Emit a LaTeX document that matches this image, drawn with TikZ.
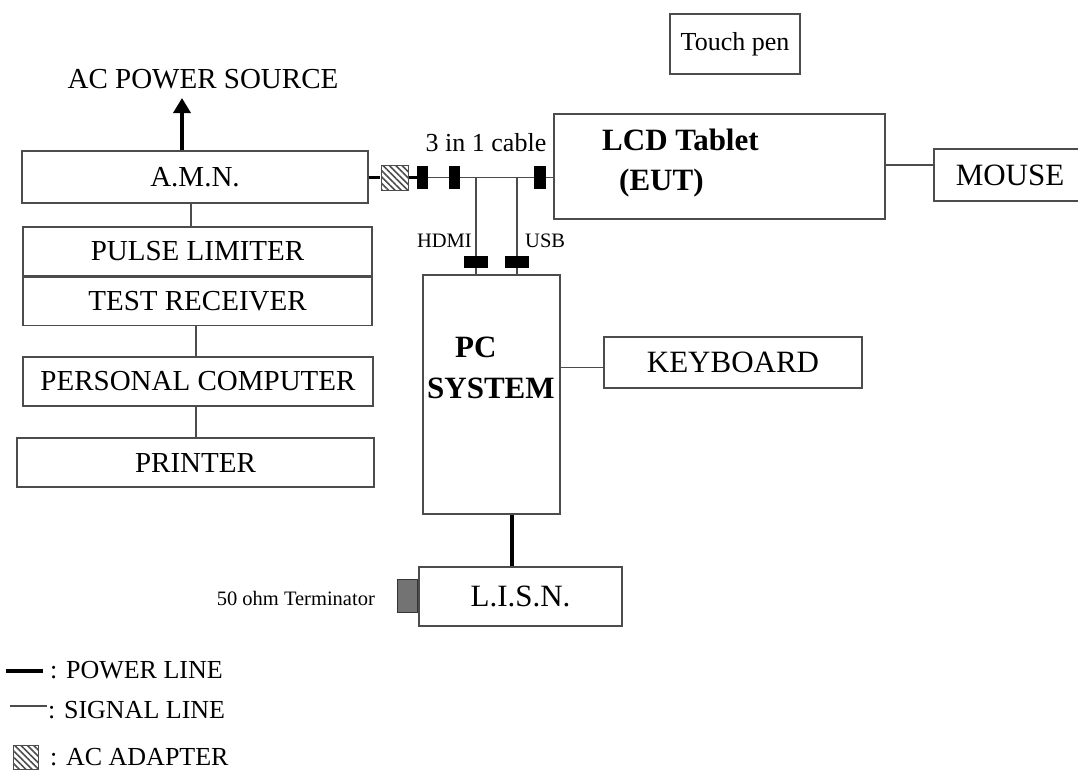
\documentclass[tikz,border=0pt]{standalone}
\usepackage{fontspec}
\setmainfont{Liberation Serif}
\usepackage{tikz}
\usetikzlibrary{arrows.meta,positioning,patterns.meta}

\begin{document}
\begin{tikzpicture}[
  x=1pt, y=-1pt,
  node distance=0pt,
  box/.style={rectangle, draw=black!70, line width=1.3pt, inner sep=0pt, align=center, font=\fontsize{29}{34}\selectfont},
  rbox/.style={box, font=\fontsize{31}{36}\selectfont},
  bold/.style={inner sep=0pt, font=\fontsize{31}{36}\selectfont\bfseries},
  lbl/.style={inner sep=0pt, font=\fontsize{26}{30}\selectfont},
  small/.style={inner sep=0pt, font=\fontsize{20.5}{24}\selectfont},
  plug/.style={rectangle, fill=black, inner sep=0pt},
  adapter/.style={rectangle, draw=black!70, line width=1pt, inner sep=0pt, pattern={Lines[angle=-45,distance=4.5pt,line width=1.6pt]}, pattern color=black!70},
  sig/.style={draw=black!70, line width=1.3pt},
  pwr/.style={draw=black, line width=3.5pt}
]
\useasboundingbox (0,0) rectangle (1078,769);

% test side
\node[box, draw=none, anchor=base] (acsrc) at (203,88) {AC POWER SOURCE};
\node[box, minimum width=346pt, minimum height=52pt] (amn) at (195,177) {A.M.N.};
\node[box, minimum width=349pt, minimum height=49pt] (pulse) at (197.5,251.5) {PULSE LIMITER};
\node[box, minimum width=349pt, minimum height=48pt, below=of pulse] (testrx) {TEST RECEIVER};
\node[box, minimum width=350pt, minimum height=49pt] (perscomp) at (198,381.5) {PERSONAL COMPUTER};
\node[box, minimum width=357pt, minimum height=49pt] (printer) at (195.5,462.5) {PRINTER};

% cable and plugs
\node[adapter, minimum width=27pt, minimum height=25pt] (adp) at (394.5,177.5) {};
\node[plug, minimum width=11pt, minimum height=23pt] (plugA) at (422.5,177.5) {};
\node[plug, minimum width=11pt, minimum height=23pt] (plugB) at (454.5,177.5) {};
\node[plug, minimum width=12pt, minimum height=23pt] (plugC) at (540,177.5) {};
\node[plug, minimum width=24pt, minimum height=12pt] (hdmiplug) at (476,262) {};
\node[plug, minimum width=24pt, minimum height=12pt] (usbplug) at (517,262) {};
\node[lbl, anchor=base] (cable) at (486,151) {3 in 1 cable};
\node[small, anchor=base east] (hdmi) at (472,247) {HDMI};
\node[small, anchor=base west] (usb) at (525,247) {USB};

% EUT side
\node[lbl, draw=black!70, line width=1.3pt, minimum width=130pt, minimum height=60pt] (pen) at (735,44) {Touch pen};
\node[box, minimum width=331pt, minimum height=105pt] (lcd) at (719.5,166.5) {};
\node[bold, anchor=base west] (lcdname) at (602,150) {LCD Tablet};
\node[bold, anchor=base west] (eut) at (619,190) {(EUT)};
\node[rbox, minimum width=152pt, minimum height=52pt] (mouse) at (1010,175) {MOUSE};
\node[box, minimum width=137pt, minimum height=239pt] (pcsys) at (491.5,394.5) {};
\node[bold, anchor=base west] (pcname) at (455,357) {PC};
\node[bold, anchor=base west] (sysname) at (427,398) {SYSTEM};
\node[rbox, minimum width=258pt, minimum height=51pt] (keyb) at (733,362.5) {KEYBOARD};
\node[rbox, minimum width=203pt, minimum height=59pt] (lisn) at (520.5,596.5) {L.I.S.N.};
\node[rectangle, draw=black!80, fill=black!55, line width=1pt, inner sep=0pt, minimum width=20pt, minimum height=33pt, anchor=east] (term) at (lisn.west |- 0,595.5) {};
\node[small, anchor=base east] (termtxt) at (375,605) {50 ohm Terminator};

\coordinate (acin) at (182,98);
\coordinate (pwrx) at (512,0);

\draw[pwr, -{Triangle[length=15pt,width=17pt]}] (amn.north -| acin) -- (acin);
\draw[pwr] (amn.east |- adp) -- (adp.west);
\draw[pwr] (adp.east) -- (plugA.west);
\draw[sig] (plugA.east) -- (plugB.west);
\draw[sig] (plugB.east) -- (plugC.west);
\draw[sig] (plugC.east) -- (lcd.west |- plugC);
\draw[sig] (hdmiplug |- plugB) -- (hdmiplug.north);
\draw[sig] (hdmiplug.south) -- (hdmiplug |- pcsys.north);
\draw[sig] (usbplug |- plugB) -- (usbplug.north);
\draw[sig] (usbplug.south) -- (usbplug |- pcsys.north);
\draw[sig] ([yshift=1.5pt]lcd.east) -- ([yshift=1.5pt]lcd.east -| mouse.west);
\draw[sig] ([yshift=-5pt]pcsys.east |- keyb) -- ([yshift=-5pt]keyb.west);
\draw[pwr] (pcsys.south -| pwrx) -- (lisn.north -| pwrx);
\draw[sig] ([xshift=-4pt]amn.south) -- ([xshift=-4pt]amn.south |- pulse.north);
\draw[sig] ([xshift=-1.5pt]testrx.south) -- ([xshift=-1.5pt]testrx.south |- perscomp.north);
\draw[sig] ([xshift=-2pt]perscomp.south) -- ([xshift=-2pt]perscomp.south |- printer.north);

% legend
\draw[pwr] (6,671) -- (43,671);
\node[lbl, anchor=base west] (leg1) at (50,678) {: POWER LINE};
\draw[sig] (10,706) -- (47,706);
\node[lbl, anchor=base west] (leg2) at (48,718) {: SIGNAL LINE};
\node[adapter, minimum width=25pt, minimum height=24pt] (legadp) at (25.5,757) {};
\node[lbl, anchor=base west] (leg3) at (50,765) {: AC ADAPTER};

\end{tikzpicture}
\end{document}
